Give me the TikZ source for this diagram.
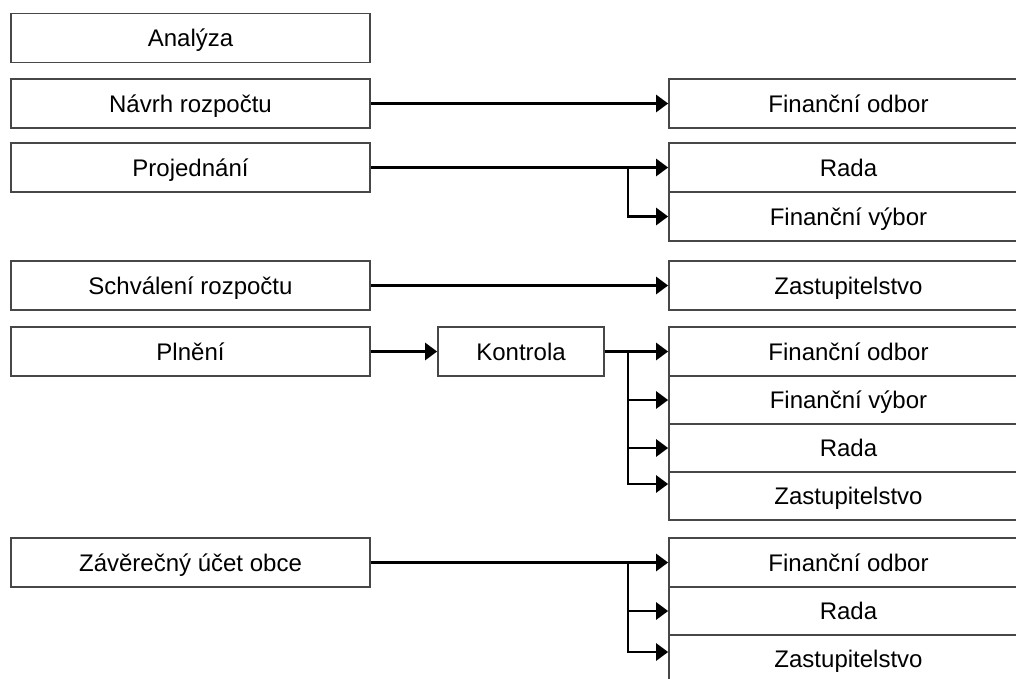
\documentclass[tikz,border=0pt]{standalone}
\usepackage{fontspec}
\setmainfont{Liberation Sans}
\usetikzlibrary{arrows.meta}
\begin{document}
\begin{tikzpicture}[x=1pt,y=-1pt,
  box/.style={draw=black!72, line width=1.7pt, fill=white, inner sep=0pt, anchor=center,
    font=\fontsize{24}{28}\selectfont, text height=17pt, text depth=0pt},
  lbox/.style={box, minimum width=359pt, minimum height=49pt},
  rbox/.style={box, minimum width=359pt, minimum height=49pt},
  conn/.style={line width=2.6pt, black, -{Triangle[length=12pt,width=17pt]}}]
\useasboundingbox (0,0) rectangle (1016,678);
\begin{scope}
\clip (0,0) rectangle (1016,678);
% left column
\node[lbox] (ana) at (190.5,38) {Analýza};
\node[lbox] (nav) at (190.5,103.5) {Návrh rozpočtu};
\node[lbox] (pro) at (190.5,167.5) {Projednání};
\node[lbox] (sch) at (190.5,285.5) {Schválení rozpočtu};
\node[lbox] (pln) at (190.5,351.5) {Plnění};
\node[lbox] (zav) at (190.5,562.5) {Závěrečný účet obce};
% Kontrola
\node[box, minimum width=166pt, minimum height=49pt] (kon) at (521,351.5) {Kontrola};
% right column
\node[rbox] (fo1) at (848.5,103.5) {Finanční odbor};
\node[rbox] (ra1) at (848.5,167.5) {Rada};
\node[rbox] (fv1) at (848.5,216.5) {Finanční výbor};
\node[rbox] (zs1) at (848.5,285.5) {Zastupitelstvo};
\node[rbox] (fo2) at (848.5,351.5) {Finanční odbor};
\node[rbox, minimum height=48pt] (fv2) at (848.5,400) {Finanční výbor};
\node[rbox, minimum height=48pt] (ra2) at (848.5,448) {Rada};
\node[rbox, minimum height=48pt] (zs2) at (848.5,496) {Zastupitelstvo};
\node[rbox] (fo3) at (848.5,562.5) {Finanční odbor};
\node[rbox, minimum height=48pt] (ra3) at (848.5,611) {Rada};
\node[rbox, minimum height=48pt] (zs3) at (848.5,659) {Zastupitelstvo};
% branch points
\coordinate (bp1) at (628,167.5);
\coordinate (bp2) at (628,351.5);
\coordinate (bp3) at (628,562.5);
% connectors
\draw[conn] (nav.east) -- (fo1.west);
\draw[conn] (pro.east) -- (ra1.west);
\draw[conn] (bp1) |- (fv1.west);
\draw[conn] (sch.east) -- (zs1.west);
\draw[conn] (pln.east) -- (kon.west);
\draw[conn] (kon.east) -- (fo2.west);
\draw[conn] (bp2) |- (fv2.west);
\draw[conn] (bp2) |- (ra2.west);
\draw[conn] (bp2) |- ([yshift=12pt]zs2.west);
\draw[conn] (zav.east) -- (fo3.west);
\draw[conn] (bp3) |- (ra3.west);
\draw[conn] (bp3) |- ([yshift=7pt]zs3.west);
\end{scope}
\end{tikzpicture}
\end{document}
